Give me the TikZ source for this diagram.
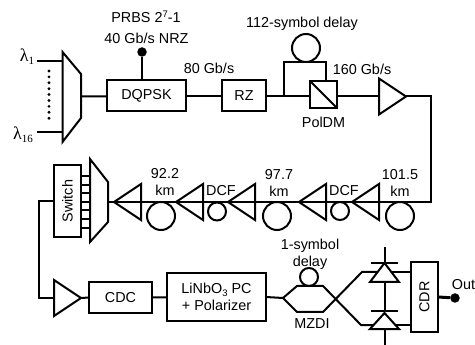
\documentclass[tikz,border=0pt]{standalone}
\usepackage{fontspec}
\setmainfont{Liberation Sans}
\newfontfamily\lamfont{Liberation Serif}
\usetikzlibrary{shapes.geometric}
\tikzset{
  every node/.style={font=\fontsize{14.4}{17}\selectfont,inner sep=0pt,outer sep=0pt},
  wire/.style={line width=2pt,line join=miter},
  block/.style={draw,line width=2pt,rectangle},
  amp/.style={draw,line width=2pt,isosceles triangle,isosceles triangle stretches,
    minimum height=27pt,minimum width=36pt,shape border rotate=#1,anchor=apex},
  amp/.default=0,
  spool/.style={draw,line width=2pt,circle,minimum size=28pt},
  dcf/.style={draw,line width=2pt,circle,minimum size=18pt},
  blob/.style={fill,circle,minimum size=9.5pt},
}
\newcommand{\lamsub}[1]{{\lamfont\fontsize{18}{18}\selectfont λ\raisebox{-3pt}{\fontsize{11}{11}\selectfont #1}}}
\begin{document}
\begin{tikzpicture}[x=1pt,y=-1pt]
  \useasboundingbox (0,0) rectangle (475,345);
  % transmitter
  \draw[wire] (62.5,52) -- (81,74) -- (81,118) -- (62.5,142) -- cycle;
  \coordinate (muxout) at (81,96.5);
  \coordinate (lamone) at (37,61);
  \coordinate (lamtop) at (62.5,61);
  \coordinate (lamlast) at (37,132);
  \coordinate (lambot) at (62.5,132);
  \draw[wire] (lamone) -- (lamtop);
  \draw[wire] (lamlast) -- (lambot);
  \foreach \y in {71,76.9,...,119} \fill (49,\y) circle (1.6pt);
  \node (lam1) at (27,57) {\lamsub{1}};
  \node (lam16) at (23,135) {\lamsub{16}};
  \node[block,minimum width=79pt,minimum height=31pt] (dqpsk) at (146.5,96) {DQPSK};
  \node[block,minimum width=44pt,minimum height=31pt] (rz) at (244,96) {RZ};
  \node[blob] (prbs) at (142,52) {};
  \node (prbstxt) at (146,17) {PRBS 2\raisebox{5pt}{\fontsize{9.5}{10}\selectfont 7}-1};
  \node (nrz) at (146.5,38.5) {40 Gb/s NRZ};
  \node (rate80) at (209,68) {80 Gb/s};
  \draw[wire] (muxout) -- (dqpsk);
  \draw[wire] (dqpsk) -- (rz);
  \draw[wire] (prbs) -- (142,79);
  % polarization mux
  \node[block,minimum size=27pt] (poldm) at (323.5,94.5) {};
  \draw[wire] (poldm.north west) -- (poldm.south east);
  \node (poldmtxt) at (323.5,122) {PolDM};
  \node (delaytxt) at (302,24) {112-symbol delay};
  \node (rate160) at (362,69) {160 Gb/s};
  \node[spool] (delay) at (306,48) {};
  \coordinate (tap) at (284,96.5);
  \draw[wire] (rz.east) -- (poldm.west |- rz.east);
  \draw[wire] (tap) -- (284,62) -- (326,62) -- (326,81);
  \node[amp] (booster) at (406,96.5) {};
  \draw[wire] (poldm.east |- booster.west) -- (booster.west);
  % link
  \coordinate (corner) at (431,202);
  \node[amp=180] (ampa) at (352,202) {};
  \node[amp=180] (ampb) at (299,202) {};
  \node[amp=180] (ampc) at (228,202) {};
  \node[amp=180] (ampd) at (176,202) {};
  \node[amp=180] (ampe) at (114,202) {};
  \draw[wire] (booster.east) -- (431,96.5) -- (corner) -- (ampa.west);
  \draw[wire] (ampa.east) -- (ampb.west);
  \draw[wire] (ampb.east) -- (ampc.west);
  \draw[wire] (ampc.east) -- (ampd.west);
  \draw[wire] (ampd.east) -- (ampe.west);
  \node[spool] (fiba) at (400,216) {};
  \node[dcf] (dcfa) at (340,211) {};
  \node[spool] (fibb) at (277,216) {};
  \node[dcf] (dcfb) at (217,211.5) {};
  \node[spool] (fibc) at (161,216) {};
  \node[align=center] (lena) at (400,183) {101.5\\km};
  \node[align=center] (lenb) at (279,183) {97.7\\km};
  \node[align=center] (lenc) at (165,182) {92.2\\km};
  \node (dcftxta) at (344,190.5) {DCF};
  \node (dcftxtb) at (221,190.5) {DCF};
  % demux and switch
  \draw[wire] (90,159) -- (108,182) -- (108,222) -- (90,242) -- cycle;
  \coordinate (demuxin) at (108,202);
  \draw[wire] (ampe.east) -- (demuxin);
  \node[block,minimum width=27.5pt,minimum height=72pt] (switch) at (67.5,201) {\rotatebox{90}{Switch}};
  \foreach \y in {176,184.6,193.2,201.8,210.4,219,227.6} \draw[wire] (81,\y) -- (90,\y);
  % receiver
  \node[amp] (preamp) at (81,298) {};
  \node[block,minimum width=62.5pt,minimum height=31pt] (cdc) at (120.5,297.5) {CDC};
  \node[block,minimum width=99pt,minimum height=48pt,align=center] (pc) at (216.5,297) {LiNbO\raisebox{-3pt}{\fontsize{9.5}{10}\selectfont 3} PC\\+ Polarizer};
  \draw[wire] (switch.west) -- (38.5,201) -- (38.5,298) -- (preamp.west);
  \draw[wire] (preamp.east) -- (cdc.west);
  \draw[wire] (cdc) -- (pc);
  % interferometer
  \coordinate (split) at (283,298);
  \draw[wire] (pc.east) -- (split);
  \draw[wire] (split) -- (297,286) -- (323,286) -- (361,325) -- (373,325);
  \draw[wire] (split) -- (297,312) -- (323,312) -- (362,272) -- (377,272);
  \node[dcf] (symdelay) at (309,277) {};
  \node[align=center] (symtxt) at (310,254) {1-symbol\\delay};
  \node (mzdi) at (312,323.5) {MZDI};
  % photodiodes
  \node[block,minimum width=27pt,minimum height=70pt] (cdr) at (424.5,297) {\rotatebox{90}{CDR}};
  \draw[wire] (370,282) -- (384.5,263) -- (399,282) -- cycle;
  \draw[wire] (370,329) -- (384.5,313) -- (399,329) -- cycle;
  \draw[wire] (371,263) -- (398,263);
  \draw[wire] (371,311) -- (398,311);
  \draw[wire] (384.5,247) -- (384.5,263);
  \draw[wire] (384.5,282) -- (384.5,311);
  \draw[wire] (384.5,329) -- (384.5,345);
  \draw[wire] (392,272) -- (411,272);
  \draw[wire] (395,325) -- (411,325);
  \node[blob] (outdot) at (455,298) {};
  \node (outtxt) at (463.5,285) {Out};
  \draw[line width=3pt] (cdr.east) -- (outdot);
\end{tikzpicture}
\end{document}
